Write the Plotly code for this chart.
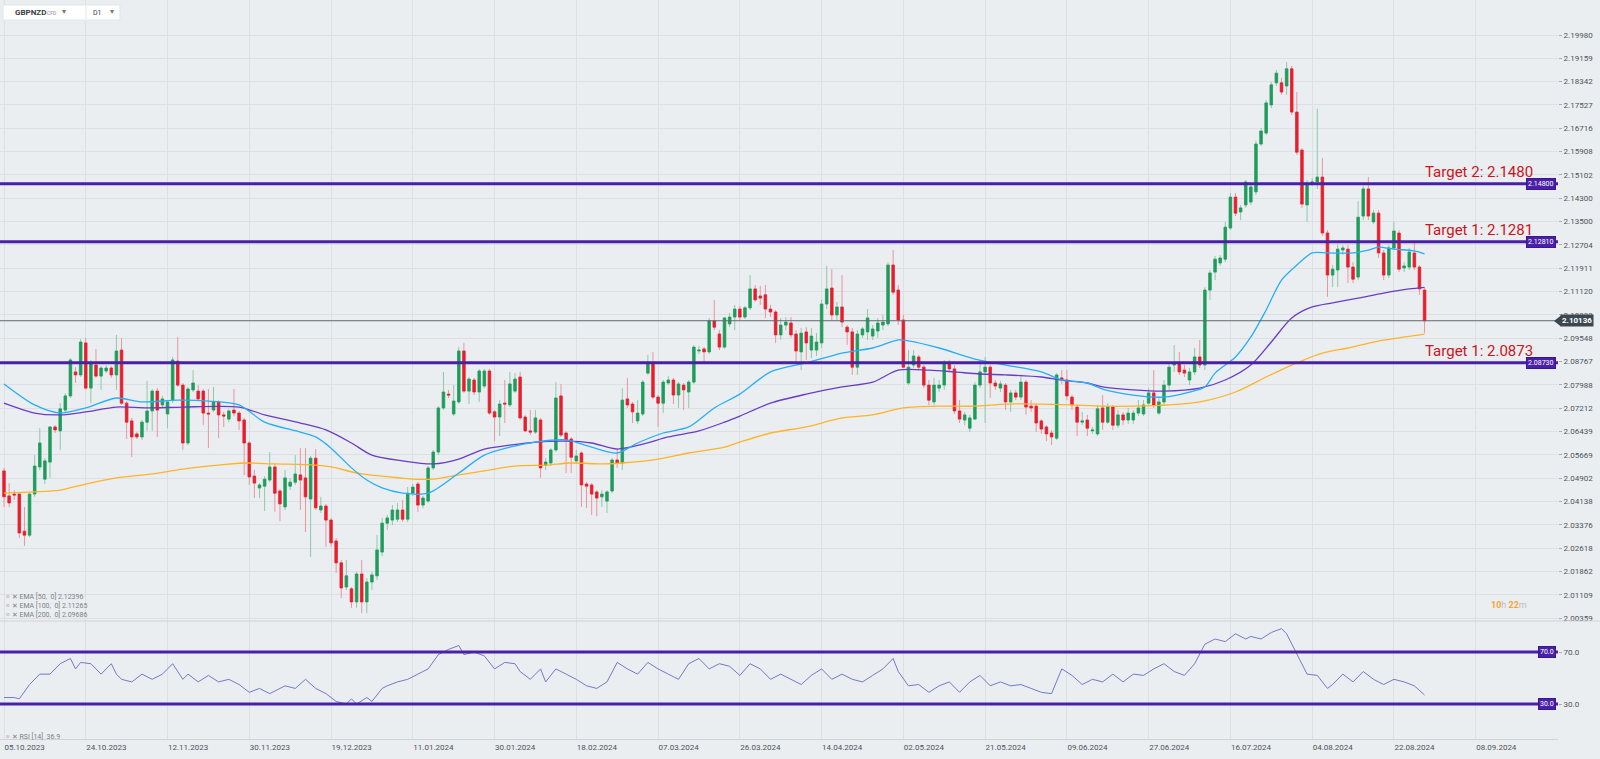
import math
import plotly.graph_objects as go

# ---------------- DATA ----------------
date_tick_idx = [0, 16, 32, 48, 64, 80, 96, 112, 128, 144, 160, 176, 192, 208, 224, 240, 256, 272, 288]
date_tick_text = ["05.10.2023", "24.10.2023", "12.11.2023", "30.11.2023", "19.12.2023", "11.01.2024",
                  "30.01.2024", "18.02.2024", "07.03.2024", "26.03.2024", "14.04.2024", "02.05.2024",
                  "21.05.2024", "09.06.2024", "27.06.2024", "16.07.2024", "04.08.2024", "22.08.2024",
                  "08.09.2024"]

price_ticks = [2.19980, 2.19159, 2.18342, 2.17527, 2.16716, 2.15908, 2.15102, 2.14300, 2.13500,
               2.12704, 2.11911, 2.11120, 2.10333, 2.09548, 2.08767, 2.07988, 2.07212, 2.06439,
               2.05669, 2.04902, 2.04138, 2.03376, 2.02618, 2.01862, 2.01109, 2.00359]

opens = [
    2.0514, 2.0432, 2.0438, 2.0438, 2.0317, 2.0304, 2.0438, 2.0527, 2.0487, 2.0543,
    2.0659, 2.0646, 2.0715, 2.0762, 2.0842, 2.0832, 2.0939, 2.0788, 2.0865, 2.0828,
    2.0845, 2.0855, 2.0832, 2.0915, 2.0738, 2.0679, 2.0636, 2.0626, 2.0675, 2.0712,
    2.0778, 2.0732, 2.0702, 2.0748, 2.0878, 2.0798, 2.0606, 2.0782, 2.0778, 2.0778,
    2.0705, 2.0715, 2.0742, 2.0699, 2.0685, 2.0715, 2.0705, 2.0682, 2.0606, 2.0497,
    2.0458, 2.0464, 2.0484, 2.0527, 2.0448, 2.0396, 2.0464, 2.0477, 2.0501, 2.0491,
    2.0422, 2.0556, 2.0386, 2.0399, 2.0353, 2.0285, 2.0214, 2.0136, 2.0130, 2.0088,
    2.0178, 2.0088, 2.0152, 2.0172, 2.0249, 2.0343, 2.0353, 2.0356, 2.0386, 2.0356,
    2.0441, 2.0471, 2.0402, 2.0415, 2.0524, 2.0576, 2.0722, 2.0768, 2.0702, 2.0742,
    2.0912, 2.0778, 2.0815, 2.0775, 2.0795, 2.0845, 2.0709, 2.0692, 2.0738, 2.0732,
    2.0778, 2.0825, 2.0692, 2.0646, 2.0642, 2.0682, 2.0533, 2.0540, 2.0583, 2.0762,
    2.0639, 2.0619, 2.0547, 2.0573, 2.0471, 2.0468, 2.0445, 2.0429, 2.0415, 2.0448,
    2.0550, 2.0540, 2.0752, 2.0735, 2.0679, 2.0702, 2.0838, 2.0872, 2.0758, 2.0738,
    2.0805, 2.0815, 2.0765, 2.0798, 2.0775, 2.0808, 2.0912, 2.0919, 2.0909, 2.1013,
    2.0969, 2.0925, 2.1003, 2.1026, 2.1053, 2.1026, 2.1057, 2.1121, 2.1097, 2.1101,
    2.1053, 2.1043, 2.0966, 2.0999, 2.1006, 2.0969, 2.0909, 2.0976, 2.0915, 2.0915,
    2.0939, 2.1070, 2.1124, 2.1033, 2.1060, 2.0992, 2.0976, 2.0858, 2.0966, 2.0976,
    2.0962, 2.0979, 2.0999, 2.1003, 2.1202, 2.1117, 2.1016, 2.0805, 2.0865, 2.0892,
    2.0858, 2.0798, 2.0742, 2.0788, 2.0798, 2.0872, 2.0852, 2.0712, 2.0682, 2.0655,
    2.0685, 2.0798, 2.0842, 2.0858, 2.0805, 2.0788, 2.0798, 2.0742, 2.0772, 2.0758,
    2.0808, 2.0728, 2.0728, 2.0679, 2.0659, 2.0639, 2.0622, 2.0822, 2.0815, 2.0758,
    2.0725, 2.0675, 2.0682, 2.0646, 2.0636, 2.0722, 2.0675, 2.0725, 2.0665, 2.0699,
    2.0682, 2.0682, 2.0705, 2.0702, 2.0738, 2.0772, 2.0705, 2.0742, 2.0798, 2.0865,
    2.0872, 2.0848, 2.0815, 2.0842, 2.0892, 2.0865, 2.1117, 2.1178, 2.1209, 2.1222,
    2.1328, 2.1434, 2.1383, 2.1407, 2.1417, 2.1452, 2.1617, 2.1655, 2.1753, 2.1830,
    2.1830, 2.1819, 2.1879, 2.1728, 2.1596, 2.1407, 2.1482, 2.1486, 2.1503, 2.1311,
    2.1168, 2.1185, 2.1253, 2.1256, 2.1195, 2.1161, 2.1369, 2.1462, 2.1349, 2.1379,
    2.1243, 2.1168, 2.1260, 2.1311, 2.1192, 2.1195, 2.1243, 2.1195, 2.1117,
]

highs = [
    2.0524, 2.0474, 2.0451, 2.0442, 2.0396, 2.0445, 2.0566, 2.0655, 2.0556, 2.0662,
    2.0665, 2.0738, 2.0771, 2.0888, 2.0858, 2.0952, 2.0956, 2.0882, 2.0919, 2.0862,
    2.0865, 2.0862, 2.0966, 2.0956, 2.0745, 2.0689, 2.0642, 2.0682, 2.0812, 2.0785,
    2.0788, 2.0762, 2.0748, 2.0892, 2.0959, 2.0805, 2.0792, 2.0848, 2.0798, 2.0785,
    2.0785, 2.0792, 2.0748, 2.0709, 2.0719, 2.0785, 2.0712, 2.0689, 2.0612, 2.0517,
    2.0474, 2.0497, 2.0576, 2.0537, 2.0455, 2.0517, 2.0491, 2.0566, 2.0589, 2.0589,
    2.0563, 2.0586, 2.0429, 2.0406, 2.0360, 2.0295, 2.0223, 2.0223, 2.0136, 2.0185,
    2.0223, 2.0165, 2.0185, 2.0305, 2.0360, 2.0370, 2.0402, 2.0409, 2.0419, 2.0461,
    2.0471, 2.0477, 2.0432, 2.0530, 2.0583, 2.0728, 2.0842, 2.0782, 2.0798, 2.0925,
    2.0939, 2.0825, 2.0822, 2.0852, 2.0852, 2.0852, 2.0715, 2.0748, 2.0815, 2.0842,
    2.0838, 2.0842, 2.0699, 2.0715, 2.0715, 2.0689, 2.0556, 2.0589, 2.0808, 2.0802,
    2.0646, 2.0626, 2.0583, 2.0579, 2.0477, 2.0474, 2.0451, 2.0451, 2.0451, 2.0556,
    2.0589, 2.0788, 2.0822, 2.0742, 2.0748, 2.0815, 2.0899, 2.0909, 2.0765, 2.0815,
    2.0828, 2.0822, 2.0808, 2.0805, 2.0815, 2.0932, 2.0929, 2.0925, 2.1023, 2.1084,
    2.0982, 2.1026, 2.1040, 2.1067, 2.1064, 2.1064, 2.1168, 2.1134, 2.1131, 2.1134,
    2.1067, 2.1050, 2.1023, 2.1026, 2.1026, 2.0982, 2.0989, 2.0992, 2.0989, 2.0972,
    2.1084, 2.1199, 2.1188, 2.1077, 2.1168, 2.0999, 2.0989, 2.0982, 2.0992, 2.1053,
    2.0999, 2.1023, 2.1033, 2.1212, 2.1253, 2.1134, 2.1033, 2.0915, 2.0915, 2.0899,
    2.0865, 2.0815, 2.0822, 2.0815, 2.0882, 2.0882, 2.0865, 2.0748, 2.0709, 2.0699,
    2.0808, 2.0882, 2.0892, 2.0865, 2.0815, 2.0812, 2.0805, 2.0782, 2.0782, 2.0832,
    2.0815, 2.0748, 2.0735, 2.0685, 2.0665, 2.0649, 2.0838, 2.0848, 2.0848, 2.0765,
    2.0732, 2.0709, 2.0699, 2.0659, 2.0732, 2.0765, 2.0738, 2.0732, 2.0715, 2.0709,
    2.0722, 2.0715, 2.0748, 2.0748, 2.0788, 2.0848, 2.0755, 2.0815, 2.0875, 2.0932,
    2.0909, 2.0865, 2.0855, 2.0922, 2.0949, 2.1127, 2.1185, 2.1233, 2.1236, 2.1349,
    2.1448, 2.1448, 2.1407, 2.1493, 2.1479, 2.1628, 2.1673, 2.1770, 2.1833, 2.1875,
    2.1847, 2.1903, 2.1889, 2.1798, 2.1603, 2.1493, 2.1500, 2.1740, 2.1568, 2.1321,
    2.1202, 2.1273, 2.1270, 2.1270, 2.1212, 2.1420, 2.1472, 2.1503, 2.1389, 2.1389,
    2.1253, 2.1270, 2.1349, 2.1321, 2.1212, 2.1260, 2.1277, 2.1202, 2.1124,
]

lows = [
    2.0396, 2.0396, 2.0419, 2.0295, 2.0269, 2.0298, 2.0429, 2.0517, 2.0471, 2.0491,
    2.0639, 2.0583, 2.0709, 2.0755, 2.0805, 2.0825, 2.0782, 2.0738, 2.0822, 2.0782,
    2.0838, 2.0822, 2.0782, 2.0732, 2.0619, 2.0559, 2.0619, 2.0616, 2.0646, 2.0646,
    2.0626, 2.0722, 2.0655, 2.0738, 2.0792, 2.0583, 2.0599, 2.0775, 2.0745, 2.0665,
    2.0589, 2.0709, 2.0622, 2.0659, 2.0675, 2.0695, 2.0649, 2.0500, 2.0468, 2.0425,
    2.0425, 2.0383, 2.0477, 2.0380, 2.0350, 2.0386, 2.0451, 2.0468, 2.0386, 2.0314,
    2.0233, 2.0386, 2.0376, 2.0266, 2.0266, 2.0181, 2.0101, 2.0126, 2.0069, 2.0069,
    2.0052, 2.0052, 2.0126, 2.0159, 2.0236, 2.0321, 2.0337, 2.0347, 2.0347, 2.0347,
    2.0432, 2.0380, 2.0392, 2.0409, 2.0517, 2.0566, 2.0715, 2.0755, 2.0695, 2.0735,
    2.0772, 2.0735, 2.0765, 2.0742, 2.0788, 2.0699, 2.0612, 2.0629, 2.0672, 2.0725,
    2.0772, 2.0682, 2.0642, 2.0632, 2.0636, 2.0491, 2.0517, 2.0530, 2.0576, 2.0626,
    2.0507, 2.0507, 2.0540, 2.0396, 2.0392, 2.0370, 2.0366, 2.0396, 2.0376, 2.0441,
    2.0524, 2.0517, 2.0722, 2.0672, 2.0669, 2.0695, 2.0832, 2.0752, 2.0659, 2.0705,
    2.0798, 2.0735, 2.0722, 2.0715, 2.0722, 2.0802, 2.0902, 2.0875, 2.0902, 2.0982,
    2.0915, 2.0919, 2.0992, 2.0982, 2.1016, 2.1019, 2.1050, 2.1077, 2.1067, 2.1023,
    2.1026, 2.0939, 2.0949, 2.0982, 2.0956, 2.0875, 2.0848, 2.0882, 2.0888, 2.0895,
    2.0922, 2.1053, 2.1016, 2.1016, 2.0992, 2.0932, 2.0832, 2.0832, 2.0956, 2.0949,
    2.0949, 2.0956, 2.0982, 2.0996, 2.1101, 2.0999, 2.0855, 2.0798, 2.0855, 2.0848,
    2.0788, 2.0732, 2.0732, 2.0775, 2.0782, 2.0842, 2.0702, 2.0672, 2.0665, 2.0642,
    2.0682, 2.0788, 2.0672, 2.0755, 2.0782, 2.0775, 2.0715, 2.0709, 2.0748, 2.0748,
    2.0699, 2.0709, 2.0642, 2.0636, 2.0612, 2.0599, 2.0616, 2.0802, 2.0748, 2.0715,
    2.0629, 2.0665, 2.0629, 2.0636, 2.0629, 2.0649, 2.0669, 2.0649, 2.0655, 2.0665,
    2.0669, 2.0669, 2.0695, 2.0695, 2.0732, 2.0722, 2.0699, 2.0732, 2.0782, 2.0842,
    2.0832, 2.0825, 2.0798, 2.0832, 2.0855, 2.0848, 2.1084, 2.1151, 2.1199, 2.1212,
    2.1321, 2.1369, 2.1355, 2.1397, 2.1407, 2.1441, 2.1610, 2.1648, 2.1742, 2.1819,
    2.1788, 2.1788, 2.1718, 2.1579, 2.1397, 2.1349, 2.1472, 2.1462, 2.1301, 2.1094,
    2.1127, 2.1127, 2.1236, 2.1141, 2.1141, 2.1151, 2.1355, 2.1355, 2.1341, 2.1226,
    2.1151, 2.1158, 2.1253, 2.1178, 2.1178, 2.1185, 2.1185, 2.1101, 2.0972,
]

closes = [
    2.0429, 2.0409, 2.0435, 2.0311, 2.0304, 2.0438, 2.0530, 2.0606, 2.0547, 2.0659,
    2.0649, 2.0719, 2.0762, 2.0882, 2.0832, 2.0942, 2.0788, 2.0872, 2.0828, 2.0855,
    2.0855, 2.0832, 2.0912, 2.0738, 2.0675, 2.0626, 2.0626, 2.0675, 2.0712, 2.0778,
    2.0715, 2.0752, 2.0742, 2.0882, 2.0798, 2.0606, 2.0785, 2.0805, 2.0752, 2.0705,
    2.0702, 2.0742, 2.0699, 2.0695, 2.0712, 2.0705, 2.0679, 2.0606, 2.0494, 2.0474,
    2.0468, 2.0487, 2.0527, 2.0441, 2.0406, 2.0491, 2.0477, 2.0504, 2.0484, 2.0429,
    2.0556, 2.0393, 2.0399, 2.0353, 2.0279, 2.0214, 2.0133, 2.0172, 2.0088, 2.0178,
    2.0088, 2.0152, 2.0175, 2.0256, 2.0343, 2.0360, 2.0386, 2.0386, 2.0356, 2.0441,
    2.0461, 2.0402, 2.0425, 2.0524, 2.0576, 2.0722, 2.0775, 2.0765, 2.0745, 2.0912,
    2.0778, 2.0818, 2.0775, 2.0845, 2.0845, 2.0705, 2.0692, 2.0735, 2.0735, 2.0802,
    2.0818, 2.0689, 2.0646, 2.0642, 2.0689, 2.0524, 2.0543, 2.0583, 2.0755, 2.0632,
    2.0616, 2.0559, 2.0563, 2.0468, 2.0464, 2.0438, 2.0425, 2.0438, 2.0445, 2.0550,
    2.0540, 2.0748, 2.0732, 2.0709, 2.0705, 2.0808, 2.0872, 2.0758, 2.0738, 2.0808,
    2.0815, 2.0765, 2.0802, 2.0782, 2.0808, 2.0925, 2.0915, 2.0909, 2.1013, 2.0992,
    2.0925, 2.1023, 2.1026, 2.1053, 2.1026, 2.1057, 2.1121, 2.1084, 2.1090, 2.1053,
    2.1043, 2.0966, 2.0999, 2.1009, 2.0966, 2.0912, 2.0972, 2.0939, 2.0962, 2.0942,
    2.1070, 2.1121, 2.1033, 2.1060, 2.1009, 2.0976, 2.0858, 2.0969, 2.0986, 2.1023,
    2.0986, 2.1006, 2.1009, 2.1202, 2.1110, 2.1016, 2.0858, 2.0858, 2.0895, 2.0858,
    2.0798, 2.0748, 2.0798, 2.0798, 2.0868, 2.0852, 2.0712, 2.0685, 2.0699, 2.0689,
    2.0798, 2.0842, 2.0858, 2.0805, 2.0795, 2.0802, 2.0742, 2.0772, 2.0758, 2.0808,
    2.0725, 2.0722, 2.0672, 2.0652, 2.0636, 2.0626, 2.0832, 2.0818, 2.0762, 2.0732,
    2.0675, 2.0679, 2.0655, 2.0649, 2.0719, 2.0675, 2.0725, 2.0665, 2.0699, 2.0682,
    2.0705, 2.0705, 2.0722, 2.0732, 2.0772, 2.0732, 2.0742, 2.0798, 2.0858, 2.0872,
    2.0842, 2.0838, 2.0842, 2.0892, 2.0865, 2.1117, 2.1175, 2.1222, 2.1226, 2.1331,
    2.1434, 2.1379, 2.1397, 2.1486, 2.1469, 2.1617, 2.1662, 2.1760, 2.1823, 2.1864,
    2.1798, 2.1879, 2.1728, 2.1589, 2.1410, 2.1482, 2.1486, 2.1503, 2.1311, 2.1168,
    2.1188, 2.1256, 2.1260, 2.1195, 2.1154, 2.1365, 2.1462, 2.1369, 2.1379, 2.1243,
    2.1168, 2.1260, 2.1318, 2.1188, 2.1199, 2.1246, 2.1195, 2.1121, 2.10136,
]

ema50_idx = [0, 6, 11, 16, 22, 27, 34, 40, 46, 51, 58, 61, 64, 68, 71, 74, 78, 83, 89, 94, 99, 104,
             110, 115, 120, 124, 129, 134, 139, 144, 150, 157, 164, 170, 175, 177, 183, 190, 196,
             203, 207, 212, 215, 221, 227, 232, 235, 237, 241, 244, 247, 250, 253, 256, 259, 264,
             267, 269, 272, 276, 278]
ema50_val = [2.0802, 2.0732, 2.0705, 2.0722, 2.0755, 2.0742, 2.0748, 2.0745, 2.0732, 2.0675,
             2.0642, 2.0626, 2.0589, 2.0524, 2.0484, 2.0458, 2.0441, 2.0441, 2.0507, 2.0566,
             2.0592, 2.0609, 2.0616, 2.0592, 2.0573, 2.0606, 2.0639, 2.0659, 2.0722, 2.0768,
             2.0842, 2.0872, 2.0905, 2.0922, 2.0949, 2.0946, 2.0922, 2.0885, 2.0865, 2.0842,
             2.0815, 2.0805, 2.0785, 2.0765, 2.0758, 2.0775, 2.0792, 2.0838, 2.0892, 2.0959,
             2.1050, 2.1151, 2.1202, 2.1243, 2.1243, 2.1243, 2.1253, 2.1263, 2.1256, 2.1250,
             2.12396]

ema100_idx = [0, 6, 11, 16, 22, 28, 35, 46, 51, 58, 63, 68, 72, 78, 84, 89, 94, 99, 104, 110, 115,
              120, 125, 130, 136, 141, 144, 150, 157, 164, 170, 175, 181, 186, 191, 196, 203, 207,
              212, 215, 221, 227, 234, 239, 244, 248, 252, 256, 260, 265, 270, 275, 278]
ema100_val = [2.0738, 2.0705, 2.0699, 2.0709, 2.0725, 2.0722, 2.0725, 2.0725, 2.0699, 2.0672,
              2.0649, 2.0606, 2.0566, 2.0547, 2.0537, 2.0553, 2.0586, 2.0599, 2.0609, 2.0612,
              2.0606, 2.0586, 2.0602, 2.0626, 2.0646, 2.0675, 2.0695, 2.0738, 2.0768, 2.0792,
              2.0808, 2.0848, 2.0848, 2.0842, 2.0835, 2.0832, 2.0825, 2.0815, 2.0805, 2.0792,
              2.0782, 2.0778, 2.0788, 2.0815, 2.0865, 2.0942, 2.1023, 2.1060, 2.1074, 2.1090,
              2.1107, 2.1121, 2.11265]

ema200_idx = [0, 6, 11, 16, 22, 29, 35, 42, 47, 53, 61, 64, 70, 74, 80, 84, 89, 94, 100, 106, 111,
              117, 121, 128, 134, 141, 144, 150, 157, 164, 170, 176, 183, 190, 196, 203, 209, 215,
              221, 228, 234, 241, 247, 252, 258, 263, 268, 273, 278]
ema200_val = [2.0441, 2.0445, 2.0451, 2.0471, 2.0491, 2.0504, 2.0520, 2.0533, 2.0540, 2.0537,
              2.0533, 2.0527, 2.0504, 2.0497, 2.0487, 2.0487, 2.0501, 2.0514, 2.0530, 2.0533,
              2.0540, 2.0537, 2.0540, 2.0553, 2.0573, 2.0592, 2.0609, 2.0639, 2.0659, 2.0689,
              2.0699, 2.0722, 2.0728, 2.0728, 2.0735, 2.0735, 2.0732, 2.0728, 2.0728, 2.0732,
              2.0742, 2.0775, 2.0825, 2.0865, 2.0905, 2.0922, 2.0942, 2.0956, 2.09686]

rsi_idx = [0, 2, 3, 5, 7, 9, 11, 13, 14, 15, 17, 19, 21, 22, 23, 25, 27, 29, 31, 33, 35, 36, 38, 40,
           42, 44, 46, 48, 50, 52, 53, 55, 57, 59, 61, 63, 65, 67, 68, 69, 71, 72, 74, 75, 77, 79,
           81, 83, 85, 87, 89, 90, 92, 94, 96, 98, 100, 101, 103, 105, 106, 108, 110, 112, 114,
           116, 118, 120, 122, 124, 126, 128, 130, 132, 134, 136, 138, 140, 142, 144, 146, 148,
           150, 152, 154, 156, 158, 160, 162, 164, 166, 168, 170, 172, 174, 175, 177, 179, 181,
           183, 185, 187, 189, 191, 193, 195, 197, 199, 201, 203, 205, 207, 209, 211, 213, 215,
           217, 219, 221, 223, 225, 227, 229, 231, 233, 235, 237, 239, 241, 243, 244, 246, 248,
           250, 251, 253, 255, 257, 259, 260, 262, 264, 266, 268, 270, 272, 274, 276, 278]
rsi_val = [35, 35, 34, 45, 53, 53, 61, 65, 57, 62, 61, 53, 61, 53, 49, 47, 53, 49, 53, 61, 49, 53,
           47, 52, 47, 49, 45, 39, 42, 38, 40, 44, 42, 49, 42, 38, 32, 30, 34, 30, 35, 32, 42, 44,
           47, 49, 53, 57, 68, 72, 75, 68, 70, 67, 57, 62, 61, 55, 49, 57, 47, 57, 53, 49, 44, 42,
           47, 62, 57, 53, 62, 57, 53, 49, 61, 65, 57, 61, 59, 52, 61, 57, 49, 53, 49, 45, 52, 57,
           49, 53, 49, 47, 52, 57, 65, 55, 44, 45, 39, 44, 47, 39, 47, 52, 44, 47, 44, 45, 42, 39,
           38, 57, 52, 45, 49, 47, 53, 47, 53, 52, 57, 61, 55, 52, 61, 76, 80, 78, 84, 80, 82, 80,
           85, 88, 84, 68, 53, 52, 42, 45, 53, 47, 55, 49, 45, 49, 47, 44, 36.9]

target_levels = [2.1480, 2.1281, 2.0873]
target_texts = ["Target 2: 2.1480", "Target 1: 2.1281", "Target 1: 2.0873"]
target_box_texts = ["2.14800", "2.12810", "2.08730"]
last_price = 2.10136
rsi_levels = [70, 30]
ema_legend = ["EMA [50,  0] 2.12396", "EMA [100,  0] 2.11265", "EMA [200,  0] 2.09686"]
rsi_legend = "RSI [14]  36.9"

# ---------------- LAYOUT HELPERS ----------------
W, H = 1600, 759
ML, MR, MT, MB = 0, 42, 0, 20
PW, PH = W - ML - MR, H - MT - MB


def px(x):
    return (x - ML) / PW


def py(y):
    return 1 - (y - MT) / PH


SPLIT = py(621)
BAR0, BARW = 4.0, 5.11
XR = [(0 - BAR0) / BARW, (PW - BAR0) / BARW]

GREEN, RED = "#1f9c5c", "#e61e2d"
GREEN_W, RED_W = "#8fc8a9", "#e9959c"
PURPLE = "#4a20a6"
FONT = "Roboto"

n = len(closes)
idx = list(range(n))
body_hi = [max(o, c) for o, c in zip(opens, closes)]
body_lo = [min(o, c) for o, c in zip(opens, closes)]

fig = go.Figure()

# wicks (pale)
fig.add_trace(go.Candlestick(
    x=idx, open=opens, high=highs, low=lows, close=closes, xaxis="x", yaxis="y",
    increasing=dict(line=dict(color=GREEN_W, width=1), fillcolor=GREEN_W),
    decreasing=dict(line=dict(color=RED_W, width=1), fillcolor=RED_W),
    whiskerwidth=0, hoverinfo="skip", showlegend=False))
# bodies (solid)
fig.add_trace(go.Candlestick(
    x=idx, open=opens, high=body_hi, low=body_lo, close=closes, xaxis="x", yaxis="y",
    increasing=dict(line=dict(color=GREEN, width=0.6), fillcolor=GREEN),
    decreasing=dict(line=dict(color=RED, width=0.6), fillcolor=RED),
    whiskerwidth=0, hoverinfo="skip", showlegend=False))

for xs, ys, col in [(ema200_idx, ema200_val, "#ffb327"),
                    (ema100_idx, ema100_val, "#6a3cc4"),
                    (ema50_idx, ema50_val, "#27aef5")]:
    fig.add_trace(go.Scatter(x=xs, y=ys, mode="lines", xaxis="x", yaxis="y",
                             line=dict(color=col, width=1.3, shape="spline", smoothing=0.8),
                             hoverinfo="skip", showlegend=False))

# last price line
fig.add_trace(go.Scatter(x=[XR[0] - 2, XR[1] + 2], y=[last_price, last_price], mode="lines",
                         xaxis="x", yaxis="y", line=dict(color="#5d686e", width=1),
                         hoverinfo="skip", showlegend=False))
# target lines
for lv in target_levels:
    fig.add_trace(go.Scatter(x=[XR[0] - 2, XR[1] + 2], y=[lv, lv], mode="lines", xaxis="x", yaxis="y",
                             line=dict(color=PURPLE, width=3), hoverinfo="skip", showlegend=False))

# RSI
fig.add_trace(go.Scatter(x=rsi_idx, y=rsi_val, mode="lines", xaxis="x", yaxis="y2",
                         line=dict(color="#7479c6", width=1), hoverinfo="skip", showlegend=False))
for lv in rsi_levels:
    fig.add_trace(go.Scatter(x=[XR[0] - 2, XR[1] + 2], y=[lv, lv], mode="lines", xaxis="x", yaxis="y2",
                             line=dict(color=PURPLE, width=3), hoverinfo="skip", showlegend=False))

annotations = []
shapes = []

# target texts and boxes
for lv, t, bt in zip(target_levels, target_texts, target_box_texts):
    annotations.append(dict(xref="paper", yref="y", x=px(1423), y=math.log10(lv), yshift=12,
                            xanchor="left", yanchor="middle", text=t, showarrow=False,
                            font=dict(family=FONT, size=15, color="#c8161d")))
    annotations.append(dict(xref="paper", yref="y", x=px(1556), y=math.log10(lv),
                            xanchor="right", yanchor="middle", text=bt, showarrow=False,
                            bgcolor=PURPLE, borderpad=1, bordercolor="#3a1690", borderwidth=1,
                            font=dict(family=FONT, size=7, color="white")))
for lv in rsi_levels:
    annotations.append(dict(xref="paper", yref="y2", x=px(1556), y=lv,
                            xanchor="right", yanchor="middle", text=f"{lv:.1f}", showarrow=False,
                            bgcolor=PURPLE, borderpad=1, bordercolor="#3a1690", borderwidth=1,
                            font=dict(family=FONT, size=7, color="white")))

# last price label with pointer (drawn over the axis like the platform does)
annotations.append(dict(xref="paper", yref="y", x=px(1560), y=math.log10(last_price),
                        xanchor="left", yanchor="middle", text="<b>2.10136</b>", showarrow=False,
                        bgcolor="#3b484f", borderpad=1,
                        font=dict(family=FONT, size=8, color="white")))
shapes.append(dict(type="path", xref="paper", yref="paper",
                   path=f"M {px(1554)},{py(321)} L {px(1561)},{py(315.5)} L {px(1561)},{py(326.5)} Z",
                   fillcolor="#3b484f", line=dict(width=0)))

# countdown
annotations.append(dict(xref="paper", yref="paper", x=px(1489), y=py(605), xanchor="left",
                        yanchor="middle", showarrow=False,
                        text='<span style="color:#f4a53a"><b>10</b></span><span style="color:#b9bcc0">h</span> '
                             '<span style="color:#f4a53a"><b>22</b></span><span style="color:#b9bcc0">m</span>',
                        font=dict(family=FONT, size=9)))

# EMA legend
for k, t in enumerate(ema_legend):
    annotations.append(dict(xref="paper", yref="paper", x=px(4), y=py(596 + 9 * k), xanchor="left",
                            yanchor="middle", showarrow=False, text="\u2261 \u2715 " + t,
                            font=dict(family=FONT, size=7, color="#7c7f84")))
annotations.append(dict(xref="paper", yref="paper", x=px(4), y=py(736), xanchor="left",
                        yanchor="middle", showarrow=False, text="\u2261 \u2715 " + rsi_legend,
                        font=dict(family=FONT, size=7, color="#7c7f84")))

# header box
shapes.append(dict(type="rect", xref="paper", yref="paper", x0=px(3), x1=px(120), y0=py(20), y1=py(5),
                   fillcolor="white", line=dict(color="#e2e5e9", width=1)))
shapes.append(dict(type="line", xref="paper", yref="paper", x0=px(86), x1=px(86), y0=py(19), y1=py(6),
                   line=dict(color="#e2e5e9", width=1)))
annotations += [
    dict(xref="paper", yref="paper", x=px(13), y=py(12.5), xanchor="left", yanchor="middle",
         showarrow=False, text="<b>GBPNZD</b>", font=dict(family=FONT, size=8, color="#3a3d42")),
    dict(xref="paper", yref="paper", x=px(45), y=py(12.5), xanchor="left", yanchor="middle",
         showarrow=False, text="CFD", font=dict(family=FONT, size=5, color="#8a8d92")),
    dict(xref="paper", yref="paper", x=px(60), y=py(11.5), xanchor="left", yanchor="middle",
         showarrow=False, text="\u25be", font=dict(family=FONT, size=8, color="#777")),
    dict(xref="paper", yref="paper", x=px(91), y=py(12.5), xanchor="left", yanchor="middle",
         showarrow=False, text="D1", font=dict(family=FONT, size=7, color="#3a3d42")),
    dict(xref="paper", yref="paper", x=px(108), y=py(11.5), xanchor="left", yanchor="middle",
         showarrow=False, text="\u25be", font=dict(family=FONT, size=8, color="#777")),
]

# panel separator
shapes.append(dict(type="line", xref="paper", yref="paper", x0=0, x1=px(1600), y0=SPLIT, y1=SPLIT,
                   line=dict(color="#cfd3d8", width=1)))

GRID = "#dcdfe4"
fig.update_layout(
    width=W, height=H,
    margin=dict(l=ML, r=MR, t=MT, b=MB),
    paper_bgcolor="#ebeef1", plot_bgcolor="#ebeef1",
    showlegend=False,
    font=dict(family=FONT, color="#505357"),
    xaxis=dict(range=XR, anchor="y2", tickmode="array", tickvals=date_tick_idx, ticktext=date_tick_text,
               ticklabelposition="outside right", ticks="", showgrid=True, gridcolor=GRID, gridwidth=1,
               zeroline=False, showline=True, linecolor="#cfd3d8", linewidth=1,
               tickfont=dict(family=FONT, size=8, color="#4f5257"),
               rangeslider=dict(visible=False), fixedrange=True),
    yaxis=dict(domain=[SPLIT, 1], type="log", side="right", anchor="x",
               range=[math.log10(2.00266), math.log10(2.21217)],
               tickmode="array", tickvals=price_ticks, ticktext=[f"{v:.5f}" for v in price_ticks],
               showgrid=True, gridcolor=GRID, gridwidth=1, zeroline=False,
               ticks="outside", ticklen=3, tickcolor="#a9adb2",
               tickfont=dict(family=FONT, size=8, color="#4f5257"), showline=False),
    yaxis2=dict(domain=[0, SPLIT], side="right", anchor="x", range=[3.1, 93.85],
                tickmode="array", tickvals=[30, 70], ticktext=["30.0", "70.0"],
                showgrid=False, zeroline=False, ticks="outside", ticklen=3, tickcolor="#a9adb2",
                tickfont=dict(family=FONT, size=8, color="#4f5257"), showline=False),
    annotations=annotations,
    shapes=shapes,
)

fig.write_html("out.html")
